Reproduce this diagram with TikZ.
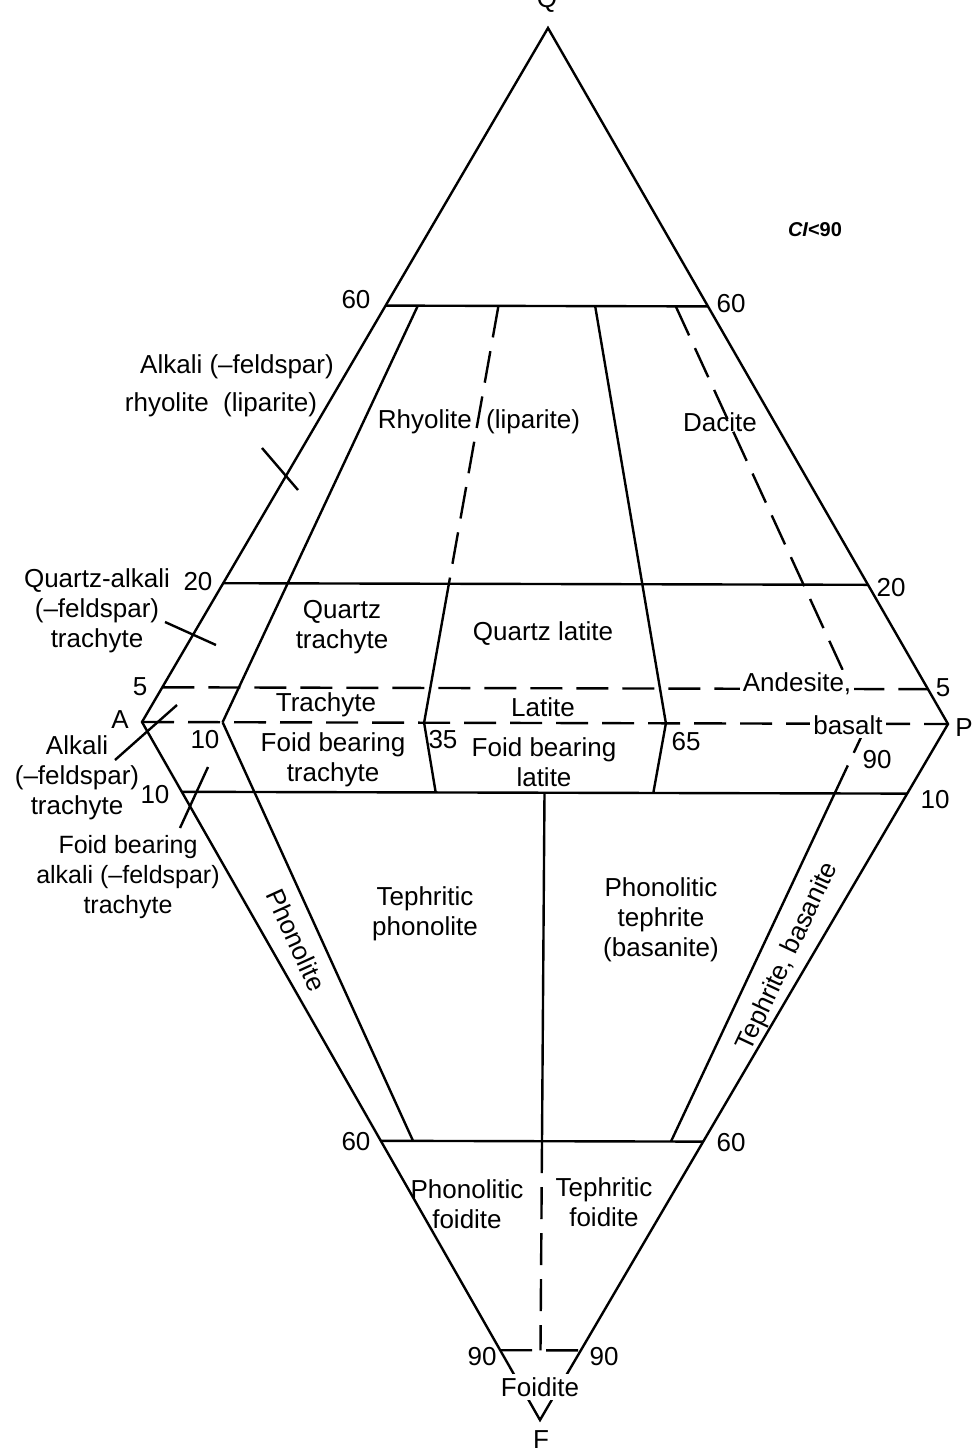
\documentclass[tikz,border=0pt]{standalone}
\usepackage{fontspec}
\setmainfont{Liberation Sans}
\usetikzlibrary{calc}
\begin{document}
\begin{tikzpicture}[x=0.5pt,y=-0.5pt, line width=1.2pt,
  lbl/.style={font=\fontsize{13}{15}\selectfont, align=center, inner sep=1pt},
  num/.style={font=\fontsize{13}{15}\selectfont, inner sep=1pt},
  wlbl/.style={lbl, fill=white, inner sep=1.5pt},
  dsh/.style={dash pattern=on 16pt off 7pt},
  lead/.style={line width=1.2pt}]
\useasboundingbox (0,0) rectangle (971,1452);
% corners
\coordinate (Q) at (548,28);
\coordinate (A) at (142,722);
\coordinate (P) at (948,724);
\coordinate (F) at (540,1420);
% edge points
\coordinate (qa60) at ($(A)!0.6!(Q)$);
\coordinate (qp60) at ($(P)!0.6!(Q)$);
\coordinate (qa20) at ($(A)!0.2!(Q)$);
\coordinate (qp20) at ($(P)!0.2!(Q)$);
\coordinate (qa5) at ($(A)!0.05!(Q)$);
\coordinate (qp5) at ($(P)!0.05!(Q)$);
\coordinate (fa10) at ($(A)!0.1!(F)$);
\coordinate (fp10) at ($(P)!0.1!(F)$);
\coordinate (fa60) at ($(A)!0.6!(F)$);
\coordinate (fp60) at ($(P)!0.6!(F)$);
\coordinate (fa90) at ($(A)!0.9!(F)$);
\coordinate (fp90) at ($(P)!0.9!(F)$);
% ratio points on A-P
\coordinate (r10) at ($(A)!0.1!(P)$);
\coordinate (r35) at ($(A)!0.35!(P)$);
\coordinate (r50) at ($(A)!0.5!(P)$);
\coordinate (r65) at ($(A)!0.65!(P)$);
\coordinate (r90) at ($(A)!0.9!(P)$);
\coordinate (u10) at ($(r10)!0.6!(Q)$);
\coordinate (u35) at ($(r35)!0.6!(Q)$);
\coordinate (u35b) at ($(r35)!0.2!(Q)$);
\coordinate (u65) at ($(r65)!0.6!(Q)$);
\coordinate (u90) at ($(r90)!0.6!(Q)$);
\coordinate (u90b) at ($(r90)!0.05!(Q)$);
\coordinate (l10) at ($(r10)!0.6!(F)$);
\coordinate (l35) at ($(r35)!0.1!(F)$);
\coordinate (l65) at ($(r65)!0.1!(F)$);
\coordinate (l50a) at ($(r50)!0.1!(F)$);
\coordinate (l50b) at ($(r50)!0.6!(F)$);
\coordinate (l50c) at ($(r50)!0.9!(F)$);
\coordinate (l90a) at ($(r90)!0.1!(F)$);
\coordinate (l90b) at ($(r90)!0.6!(F)$);
% outline
\draw (A) -- (Q) -- (P) -- (F) -- cycle;
% horizontal lines
\draw (qa60) -- (qp60);
\draw (qa20) -- (qp20);
\draw[dsh] (qa5) -- (qp5);
\draw[dsh] (A) -- (P);
\draw (fa10) -- (fp10);
\draw (fa60) -- (fp60);
\draw[dsh] (fa90) -- (fp90);
% upper radial lines
\draw (u10) -- (r10);
\draw[dsh] (u35) -- (u35b);
\draw (u35b) -- (r35);
\draw (u65) -- (r65);
\draw[dsh] (u90) -- (u90b);
% lower radial lines
\draw (r10) -- (l10);
\draw (r35) -- (l35);
\draw (r65) -- (l65);
\draw (l50a) -- (l50b);
\draw[dsh] (l50b) -- (l50c);
\draw[dsh] (r90) -- (l90a);
\draw (l90a) -- (l90b);
% leader lines
\coordinate (ld1a) at (262,448); \coordinate (ld1b) at (298,490);
\coordinate (ld2a) at (165,622); \coordinate (ld2b) at (216,645);
\coordinate (ld3a) at (115,760); \coordinate (ld3b) at (177,705);
\coordinate (ld4a) at (180,828); \coordinate (ld4b) at (208,767);
\draw[lead] (ld1a) -- (ld1b);
\draw[lead] (ld2a) -- (ld2b);
\draw[lead] (ld3a) -- (ld3b);
\draw[lead] (ld4a) -- (ld4b);
% corner and scale labels
\node[num] (nQ) at (547,1) {Q};
\node[num] (nA) at (120,720) {A};
\node[num] (nP) at (964,728) {P};
\node[num] (nF) at (541,1440) {F};
\node[num] (n60a) at (356,300) {60};
\node[num] (n60b) at (731,304) {60};
\node[num] (n20a) at (198,582) {20};
\node[num] (n20b) at (891,588) {20};
\node[num] (n5a) at (140,687) {5};
\node[num] (n5b) at (943,688) {5};
\node[num] (n10r) at (205,740) {10};
\node[num] (n35) at (443,740) {35};
\node[num] (n65) at (686,742) {65};
\node[num] (n90r) at (877,760) {90};
\node[num] (n10a) at (155,795) {10};
\node[num] (n10b) at (935,800) {10};
\node[num] (n60c) at (356,1142) {60};
\node[num] (n60d) at (731,1143) {60};
\node[num] (n90a) at (482,1357) {90};
\node[num] (n90b) at (604,1357) {90};
\node[font=\fontsize{10}{12}\selectfont, inner sep=1pt] (nCI) at (815,230) {{\bfseries\itshape CI}{\bfseries<90}};
% field labels
\node[lbl] (t1) at (237,367) {Alkali (–feldspar)};
\node[lbl] (t1b) at (221,405) {rhyolite\ \ (liparite)};
\node[lbl] (t2) at (479,422) {Rhyolite\ \ (liparite)};
\node[lbl] (t3) at (720,422) {Dacite};
\node[lbl] (t4) at (97,611) {Quartz-alkali\\(–feldspar)\\trachyte};
\node[lbl] (t5) at (342,627) {Quartz\\trachyte};
\node[lbl] (t6) at (543,634) {Quartz latite};
\node[lbl] (t7) at (326,705) {Trachyte};
\node[lbl] (t8) at (543,707) {Latite};
\node[wlbl] (t9) at (797,684) {Andesite,};
\node[wlbl] (t10) at (848,725) {basalt};
\node[lbl] (t11) at (333,760) {Foid bearing\\trachyte};
\node[lbl] (t12) at (544,762) {Foid bearing\\latite};
\node[lbl] (t13) at (77,778) {Alkali\\(–feldspar)\\trachyte};
\node[lbl, font=\fontsize{12.5}{15}\selectfont] (t14) at (128,877) {Foid bearing\\alkali (–feldspar)\\trachyte};
\node[lbl, rotate=-65.5] (t15) at (296,940) {Phonolite};
\node[lbl] (t16) at (425,914) {Tephritic\\phonolite};
\node[lbl] (t17) at (661,920) {Phonolitic\\tephrite\\(basanite)};
\node[lbl, rotate=64.8] (t18) at (788,957) {Tephrite, basanite};
\node[lbl] (t19) at (467,1204) {Phonolitic\\foidite};
\node[lbl] (t20) at (604,1202) {Tephritic\\foidite};
\node[wlbl] (t21) at (540,1387) {Foidite};
\end{tikzpicture}
\end{document}
